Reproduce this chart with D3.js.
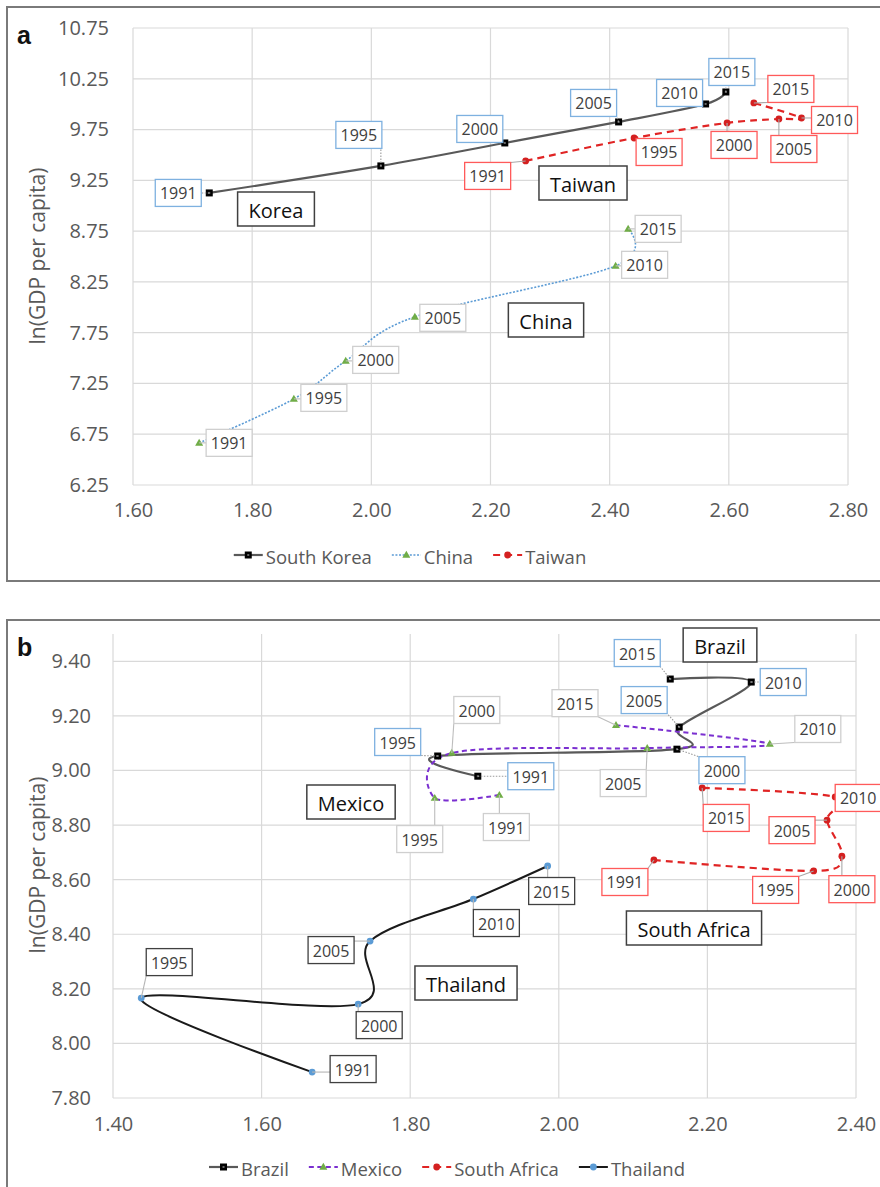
<!DOCTYPE html>
<html><head><meta charset="utf-8">
<script src="https://cdn.jsdelivr.net/npm/d3@7"></script>
<style>body{margin:0;background:#fff} svg{display:block}</style>
</head><body>
<svg id="c" width="880" height="1187"></svg>
<script>
const years = ["1991","1995","2000","2005","2010","2015"];
// Panel a values
const koreaX  = [1.728, 2.016, 2.224, 2.415, 2.561, 2.595];
const koreaY  = [9.126, 9.392, 9.618, 9.825, 10.002, 10.120];
const chinaX  = [1.711, 1.870, 1.957, 2.073, 2.410, 2.431];
const chinaY  = [6.665, 7.098, 7.472, 7.906, 8.408, 8.772];
const taiwanX = [2.259, 2.441, 2.597, 2.684, 2.722, 2.642];
const taiwanY = [9.441, 9.667, 9.815, 9.854, 9.864, 10.012];
// Panel b values
const brazilX  = [1.891, 1.837, 2.159, 2.162, 2.259, 2.150];
const brazilY  = [8.979, 9.053, 9.078, 9.159, 9.324, 9.335];
const mexicoX  = [1.920, 1.833, 1.856, 2.119, 2.284, 2.077];
const mexicoY  = [8.910, 8.899, 9.064, 9.082, 9.097, 9.166];
const safricaX = [2.128, 2.343, 2.381, 2.361, 2.372, 2.193];
const safricaY = [8.672, 8.632, 8.686, 8.818, 8.903, 8.936];
const thaiX    = [1.668, 1.438, 1.730, 1.746, 1.885, 1.985];
const thaiY    = [7.895, 8.166, 8.144, 8.375, 8.529, 8.650];
// Tick labels
const aXTicks = [1.6, 1.8, 2.0, 2.2, 2.4, 2.6, 2.8];
const aYTicks = [6.25, 6.75, 7.25, 7.75, 8.25, 8.75, 9.25, 9.75, 10.25, 10.75];
const bXTicks = [1.4, 1.6, 1.8, 2.0, 2.2, 2.4];
const bYTicks = [7.8, 8.0, 8.2, 8.4, 8.6, 8.8, 9.0, 9.2, 9.4];
const yTitle = "ln(GDP per capita)";

// ---- layout / style (not data) ----
const FONT = "'Open Sans', 'Noto Sans', sans-serif";
const labelOffsets = {
  korea:  [[-31,0],[-22,-31],[-25,-14],[-25,-19],[-26,-11],[6,-20]],
  taiwan: [[-38,15],[25,14],[7,22],[15,30],[33,2],[37,-14]],
  china:  [[30,0],[30,-1],[30,-1],[28,1],[29,-1],[30,0]],
  brazil: [[53,0],[-40,-14],[45,21],[-35,-27],[32,0],[-33,-26]],
  mexico: [[7,32],[-15,41],[25,-43],[-24,35],[48,-15],[-41,-22]],
  safrica:[[-29,22],[-38,19],[10,33],[-35,10],[23,1],[24,30]],
  thai:   [[41,-3],[28,-36],[21,21],[-39,9],[23,24],[4,25]]
};

const svg = d3.select("#c");
svg.append("rect").attr("width",880).attr("height",1187).attr("fill","#fff");

function marker(g, type, color, x, y){
  if(type==="square"){
    g.append("rect").attr("x",x-3.5).attr("y",y-3.5).attr("width",7).attr("height",7)
      .attr("fill","#000");
    g.append("rect").attr("x",x-1).attr("y",y-1).attr("width",2).attr("height",2).attr("fill","#666");
  } else if(type==="triangle"){
    g.append("path").attr("d", d3.symbol(d3.symbolTriangle).size(28)())
      .attr("transform",`translate(${x},${y+0.5})`).attr("fill",color);
  } else {
    g.append("circle").attr("cx",x).attr("cy",y).attr("r",3.4).attr("fill",color);
  }
}

function drawPanel(cfg){
  const g = svg.append("g");
  g.append("rect").attr("x",cfg.box[0]).attr("y",cfg.box[1]).attr("width",cfg.box[2]).attr("height",cfg.box[3])
    .attr("fill","#fff").attr("stroke","#7a7a7a").attr("stroke-width",2);
  const P = cfg.plot;
  const x = d3.scaleLinear().domain(cfg.xDomain).range([P.left,P.right]);
  const y = d3.scaleLinear().domain(cfg.yDomain).range([P.bottom,P.top]);
  g.append("g").selectAll("line").data(cfg.xTicks).join("line")
    .attr("x1",d=>x(d)).attr("x2",d=>x(d)).attr("y1",P.top).attr("y2",P.bottom)
    .attr("stroke","#d9d9d9").attr("stroke-width",1.2);
  g.append("g").selectAll("line").data(cfg.yTicks).join("line")
    .attr("x1",P.left).attr("x2",P.right).attr("y1",d=>y(d)).attr("y2",d=>y(d))
    .attr("stroke","#d9d9d9").attr("stroke-width",1.2);
  const ax = g.append("g").attr("transform",`translate(0,${P.bottom})`)
    .call(d3.axisBottom(x).tickValues(cfg.xTicks).tickFormat(d3.format(".2f")).tickSize(0).tickPadding(cfg.xPad));
  const ay = g.append("g").attr("transform",`translate(${P.left},0)`)
    .call(d3.axisLeft(y).tickValues(cfg.yTicks).tickFormat(d3.format(".2f")).tickSize(0).tickPadding(cfg.yPad));
  [ax,ay].forEach(a=>{
    a.select(".domain").remove();
    a.selectAll("text").attr("font-family",FONT).attr("font-size",20).attr("fill","#595959");
  });
  g.append("text").attr("transform",`translate(${cfg.title[0]},${cfg.title[1]}) rotate(-90)`)
    .attr("text-anchor","middle").attr("dominant-baseline","central")
    .attr("font-family",FONT).attr("font-size",21).attr("fill","#595959").text(yTitle);
  g.append("text").attr("x",cfg.letterPos[0]).attr("y",cfg.letterPos[1])
    .attr("font-family","'Liberation Sans', Arial, sans-serif").attr("font-weight","bold")
    .attr("font-size",25).attr("fill","#111").text(cfg.letter);

  const line = d3.line().x(d=>x(d.x)).y(d=>y(d.y)).curve(d3.curveCatmullRom.alpha(0));
  cfg.series.forEach(s=>{
    const pts = s.xs.map((v,i)=>({x:v,y:s.ys[i],yr:years[i]}));
    s.pts = pts;
    g.append("path").datum(pts).attr("d",line).attr("fill","none")
      .attr("stroke",s.color).attr("stroke-width",s.width)
      .attr("stroke-dasharray",s.dash||null);
  });
  cfg.series.forEach(s=>{
    s.pts.forEach(p=>marker(g, s.marker, s.mcolor, x(p.x), y(p.y)));
  });
  const BW=46, BH=27;
  cfg.series.forEach(s=>{
    const offs = labelOffsets[s.key];
    s.pts.forEach((p,i)=>{
      const px=x(p.x), py=y(p.y);
      const cx=px+offs[i][0], cy=py+offs[i][1];
      const nx=Math.max(cx-BW/2,Math.min(cx+BW/2,px)), ny=Math.max(cy-BH/2,Math.min(cy+BH/2,py));
      if(Math.hypot(nx-px,ny-py)>5){
        g.append("line").attr("x1",px).attr("y1",py).attr("x2",nx).attr("y2",ny)
          .attr("stroke",s.leader).attr("stroke-width",1.1)
          .attr("stroke-dasharray",s.leaderDash||null);
      }
      g.append("rect").attr("x",cx-BW/2).attr("y",cy-BH/2).attr("width",BW).attr("height",BH)
        .attr("fill","#fff").attr("stroke",s.lcolor).attr("stroke-width",1.3);
      g.append("text").attr("x",cx).attr("y",cy+0.5).attr("text-anchor","middle")
        .attr("dominant-baseline","central").attr("font-family",FONT).attr("font-size",16)
        .attr("fill","#404040").text(p.yr);
    });
  });
  cfg.notes.forEach(n=>{
    const t = g.append("text").attr("x",n.cx).attr("y",n.cy+1).attr("text-anchor","middle")
      .attr("dominant-baseline","central").attr("font-family",FONT).attr("font-size",20)
      .attr("fill","#111").text(n.text);
    const w = t.node().getComputedTextLength();
    g.insert("rect", () => t.node()).attr("x",n.cx-w/2-11).attr("y",n.cy-17).attr("width",w+22).attr("height",34)
      .attr("fill","#fff").attr("stroke","#404040").attr("stroke-width",1.5);
  });
  const lg = g.append("g");
  const items=[];
  cfg.series.forEach(s=>{
    const it = lg.append("g");
    it.append("line").attr("x1",0).attr("x2",29).attr("y1",0).attr("y2",0)
      .attr("stroke",s.color).attr("stroke-width",s.width).attr("stroke-dasharray",s.dash||null);
    marker(it, s.marker, s.mcolor, 14.5, 0);
    const t = it.append("text").attr("x",32).attr("y",1).attr("dominant-baseline","central")
      .attr("font-family",FONT).attr("font-size",18.5).attr("fill","#595959").text(s.name);
    const w = 32 + t.node().getComputedTextLength();
    items.push({it, w});
  });
  const gap = 20;
  const total = d3.sum(items,d=>d.w) + gap*(items.length-1);
  let xx = cfg.legend[0] - total/2;
  items.forEach(d=>{ d.it.attr("transform",`translate(${xx},${cfg.legend[1]})`); xx += d.w + gap; });
}

const RED="#e02424", BLUE="#5b9bd5", GREEN="#70ad47", PURPLE="#7a2fd0";
drawPanel({
  letter:"a", letterPos:[17,44],
  box:[7,7,885,574],
  plot:{left:133,right:848,top:28,bottom:485},
  xDomain:[1.6,2.8], yDomain:[6.25,10.75],
  xTicks:aXTicks, yTicks:aYTicks, xPad:18, yPad:24,
  title:[37,256],
  legend:[410,555],
  series:[
    {key:"korea", name:"South Korea", xs:koreaX, ys:koreaY, color:"#595959", width:2.2, marker:"square", mcolor:"#000", lcolor:"#7eb1e0", leader:"#9a9a9a", leaderDash:"1.5,1.5"},
    {key:"china", name:"China", xs:chinaX, ys:chinaY, color:BLUE, width:1.6, dash:"2,1.6", marker:"triangle", mcolor:GREEN, lcolor:"#cfcfcf", leader:"#bdbdbd"},
    {key:"taiwan", name:"Taiwan", xs:taiwanX, ys:taiwanY, color:RED, width:2.2, dash:"7,5", marker:"circle", mcolor:"#d42020", lcolor:"#ff5a5a", leader:"#a9a9a9"}
  ],
  notes:[{text:"Korea",cx:276,cy:209},{text:"Taiwan",cx:583,cy:183},{text:"China",cx:546,cy:320}]
});
drawPanel({
  letter:"b", letterPos:[17,656],
  box:[7,620,885,600],
  plot:{left:113,right:856,top:634,bottom:1098},
  xDomain:[1.4,2.4], yDomain:[7.8,9.5],
  xTicks:bXTicks, yTicks:bYTicks, xPad:19, yPad:22,
  title:[37,865],
  legend:[447,1167],
  series:[
    {key:"brazil", name:"Brazil", xs:brazilX, ys:brazilY, color:"#595959", width:2.2, marker:"square", mcolor:"#000", lcolor:"#7eb1e0", leader:"#9a9a9a", leaderDash:"1.5,1.5"},
    {key:"mexico", name:"Mexico", xs:mexicoX, ys:mexicoY, color:PURPLE, width:2, dash:"5,3.5", marker:"triangle", mcolor:GREEN, lcolor:"#cfcfcf", leader:"#bdbdbd"},
    {key:"safrica", name:"South Africa", xs:safricaX, ys:safricaY, color:RED, width:2.2, dash:"7,5", marker:"circle", mcolor:"#d42020", lcolor:"#ff5a5a", leader:"#a9a9a9"},
    {key:"thai", name:"Thailand", xs:thaiX, ys:thaiY, color:"#1a1a1a", width:2, marker:"circle", mcolor:BLUE, lcolor:"#404040", leader:"#b5b5b5"}
  ],
  notes:[{text:"Brazil",cx:720,cy:645},{text:"Mexico",cx:351,cy:802},{text:"Thailand",cx:466,cy:983},{text:"South Africa",cx:694,cy:928}]
});
</script>
</body></html>
